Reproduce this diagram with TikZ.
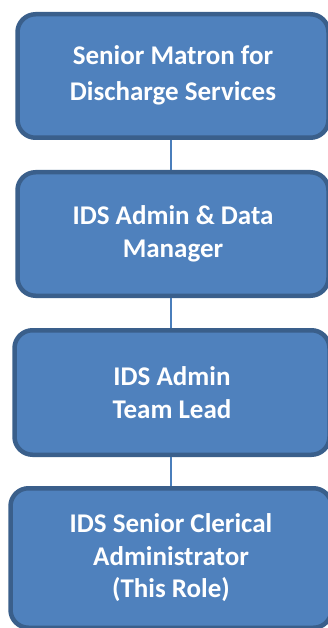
\documentclass[tikz,border=0pt]{standalone}
\usepackage{fontspec}
\setmainfont{Carlito}
\definecolor{boxfill}{HTML}{4F81BD}
\definecolor{boxline}{HTML}{3A5F8B}
\definecolor{linkline}{HTML}{4A7EBB}
\tikzset{
  rolebox/.style={draw=boxline, fill=boxfill, line width=4.5pt, rounded corners=18pt,
    align=center, text=white, inner sep=0pt,
    font=\fontsize{27}{32.5}\selectfont\bfseries},
  link/.style={draw=linkline, line width=1.6pt}
}
\begin{document}
\begin{tikzpicture}[x=1pt,y=-1pt]
  \useasboundingbox (0,0) rectangle (328,628);
  \clip (0,0) rectangle (328,628);
  \node[rolebox, minimum width=311pt, minimum height=123.5pt] (b1) at (173,76)
    {\raisebox{-3pt}{\shortstack{\strut Senior Matron for\\\strut Discharge Services}}};
  \node[rolebox, minimum width=311pt, minimum height=123.5pt] (b2) at (173,234)
    {IDS Admin \& Data\\Manager};
  \node[rolebox, minimum width=315pt, minimum height=124.5pt] (b3) at (172,392.5)
    {IDS Admin\\Team Lead};
  \node[rolebox, minimum width=321pt, minimum height=139.5pt] (b4) at (171,558)
    {IDS Senior Clerical\\Administrator\\(This Role)};
  \coordinate (lx) at (171,0);
  \draw[link] (b1.south -| lx) -- (b2.north -| lx);
  \draw[link] (b2.south -| lx) -- (b3.north -| lx);
  \draw[link] (b3.south -| lx) -- (b4.north -| lx);
\end{tikzpicture}
\end{document}
